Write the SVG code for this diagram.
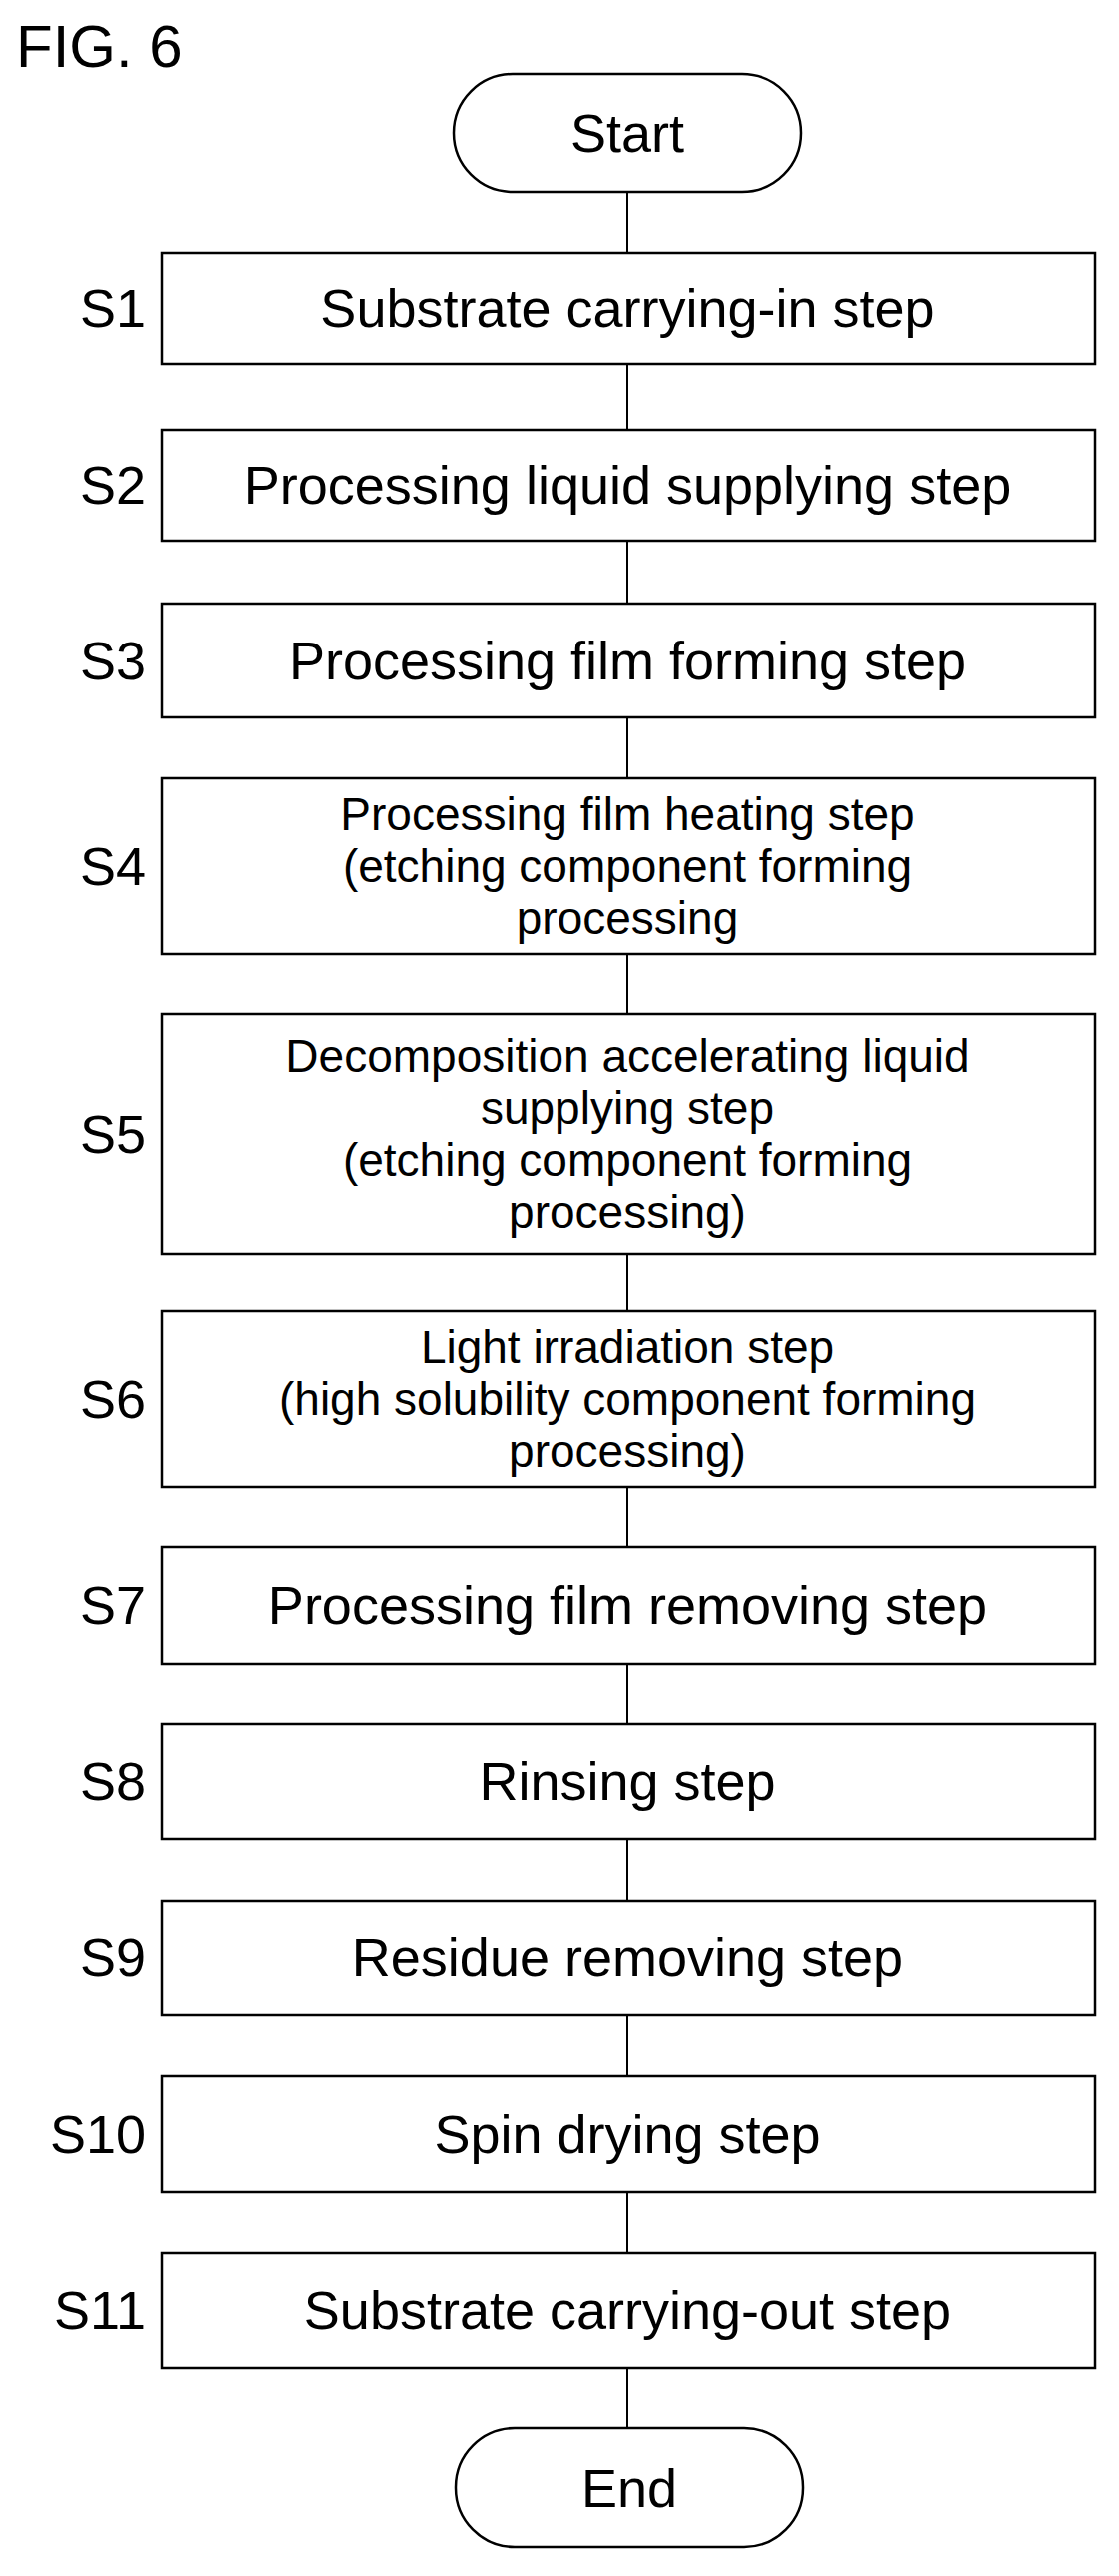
<svg xmlns="http://www.w3.org/2000/svg" width="1120" height="2578" viewBox="0 0 1120 2578">
<style>
.b{fill:#fff;stroke:#000;stroke-width:2.5}
.t{font-family:"Liberation Sans",Arial,sans-serif;font-size:54px;text-anchor:middle;dominant-baseline:central;fill:#000}
.m{font-family:"Liberation Sans",Arial,sans-serif;font-size:46px;text-anchor:middle;dominant-baseline:central;fill:#000}
.l{font-family:"Liberation Sans",Arial,sans-serif;font-size:54px;text-anchor:end;dominant-baseline:central;fill:#000}
.c{stroke:#000;stroke-width:2;fill:none}
</style>
<rect width="1120" height="2578" fill="#fff"/>
<text x="16" y="46" class="t" style="text-anchor:start;font-size:60px">FIG. 6</text>
<g id="connectors">
<line class="c" x1="628" y1="192" x2="628" y2="253"/>
<line class="c" x1="628" y1="364" x2="628" y2="430"/>
<line class="c" x1="628" y1="541" x2="628" y2="604"/>
<line class="c" x1="628" y1="718" x2="628" y2="779"/>
<line class="c" x1="628" y1="955" x2="628" y2="1015"/>
<line class="c" x1="628" y1="1255" x2="628" y2="1312"/>
<line class="c" x1="628" y1="1488" x2="628" y2="1548"/>
<line class="c" x1="628" y1="1665" x2="628" y2="1725"/>
<line class="c" x1="628" y1="1840" x2="628" y2="1902"/>
<line class="c" x1="628" y1="2017" x2="628" y2="2078"/>
<line class="c" x1="628" y1="2194" x2="628" y2="2255"/>
<line class="c" x1="628" y1="2370" x2="628" y2="2430"/>
</g>
<g id="start"><rect class="b" x="454" y="74" width="348" height="118" rx="59"/><text class="t" x="628" y="133">Start</text></g>
<g id="s1"><rect class="b" x="162" y="253" width="934" height="111"/><text class="l" x="146" y="308">S1</text><text class="t" x="628" y="308">Substrate carrying-in step</text></g>
<g id="s2"><rect class="b" x="162" y="430" width="934" height="111"/><text class="l" x="146" y="485">S2</text><text class="t" x="628" y="485">Processing liquid supplying step</text></g>
<g id="s3"><rect class="b" x="162" y="604" width="934" height="114"/><text class="l" x="146" y="661">S3</text><text class="t" x="628" y="661">Processing film forming step</text></g>
<g id="s4"><rect class="b" x="162" y="779" width="934" height="176"/><text class="l" x="146" y="867">S4</text><text class="m" x="628" y="815">Processing film heating step</text><text class="m" x="628" y="867">(etching component forming</text><text class="m" x="628" y="919">processing</text></g>
<g id="s5"><rect class="b" x="162" y="1015" width="934" height="240"/><text class="l" x="146" y="1135">S5</text><text class="m" x="628" y="1057">Decomposition accelerating liquid</text><text class="m" x="628" y="1109">supplying step</text><text class="m" x="628" y="1161">(etching component forming</text><text class="m" x="628" y="1213">processing)</text></g>
<g id="s6"><rect class="b" x="162" y="1312" width="934" height="176"/><text class="l" x="146" y="1400">S6</text><text class="m" x="628" y="1348">Light irradiation step</text><text class="m" x="628" y="1400">(high solubility component forming</text><text class="m" x="628" y="1452">processing)</text></g>
<g id="s7"><rect class="b" x="162" y="1548" width="934" height="117"/><text class="l" x="146" y="1606">S7</text><text class="t" x="628" y="1606">Processing film removing step</text></g>
<g id="s8"><rect class="b" x="162" y="1725" width="934" height="115"/><text class="l" x="146" y="1782">S8</text><text class="t" x="628" y="1782">Rinsing step</text></g>
<g id="s9"><rect class="b" x="162" y="1902" width="934" height="115"/><text class="l" x="146" y="1959">S9</text><text class="t" x="628" y="1959">Residue removing step</text></g>
<g id="s10"><rect class="b" x="162" y="2078" width="934" height="116"/><text class="l" x="146" y="2136">S10</text><text class="t" x="628" y="2136">Spin drying step</text></g>
<g id="s11"><rect class="b" x="162" y="2255" width="934" height="115"/><text class="l" x="146" y="2312">S11</text><text class="t" x="628" y="2312">Substrate carrying-out step</text></g>
<g id="end"><rect class="b" x="456" y="2430" width="348" height="119" rx="59"/><text class="t" x="630" y="2490">End</text></g>
</svg>
